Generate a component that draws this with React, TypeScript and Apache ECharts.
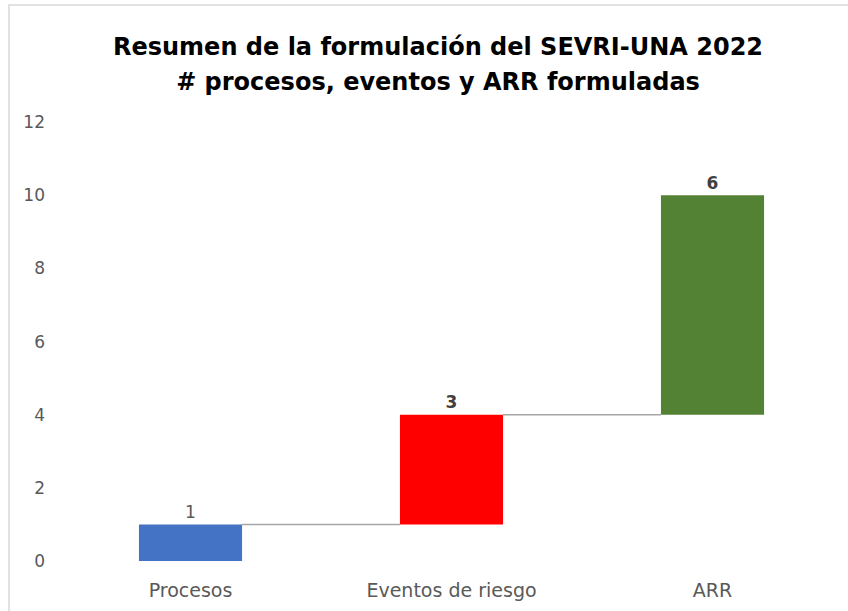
import React, { useEffect, useRef } from "react";
import * as echarts from "echarts";

const categories = ["Procesos", "Eventos de riesgo", "ARR"];
const values = [1, 3, 6];
const barColors = ["#4472C4", "#FF0000", "#548235"];
const yTicks = [0, 2, 4, 6, 8, 10, 12];

export default function App() {
  const ref = useRef<HTMLDivElement>(null);
  useEffect(() => {
    const chart = echarts.init(ref.current!, null, { renderer: "svg" });
    const bases: number[] = [];
    const ends: number[] = [];
    let acc = 0;
    values.forEach((v) => {
      bases.push(acc);
      acc += v;
      ends.push(acc);
    });
    const font = "'DejaVu Sans', sans-serif";
    chart.setOption({
      animation: false,
      title: {
        text: "Resumen de la formulación del SEVRI-UNA 2022\n# procesos, eventos y ARR formuladas",
        left: 433,
        textAlign: "center",
        top: 24,
        textStyle: {
          fontFamily: font,
          fontWeight: "bold",
          fontSize: 24,
          lineHeight: 35,
          color: "#000000",
        },
      },
      graphic: [
        {
          type: "rect",
          shape: { x: 9, y: 5, width: 1000, height: 1000 },
          style: { fill: "none", stroke: "#d9d9d9", lineWidth: 1.5 },
          silent: true,
        },
      ],
      grid: { left: 60, right: 5, top: 122, bottom: 50 },
      xAxis: {
        type: "category",
        data: categories,
        axisLine: { show: false },
        axisTick: { show: false },
        axisLabel: { fontFamily: font, fontSize: 19, color: "#595959", margin: 19 },
      },
      yAxis: {
        type: "value",
        min: yTicks[0],
        max: yTicks[yTicks.length - 1],
        interval: 2,
        axisLine: { show: false },
        axisTick: { show: false },
        splitLine: { show: false },
        axisLabel: { fontFamily: font, fontSize: 17, color: "#595959", margin: 15 },
      },
      series: [
        {
          type: "bar",
          stack: "w",
          data: bases,
          itemStyle: { color: "transparent" },
          barWidth: "39.5%",
          silent: true,
        },
        {
          type: "bar",
          stack: "w",
          barWidth: "39.5%",
          data: values.map((v, i) => ({
            value: v,
            itemStyle: { color: barColors[i] },
            label: {
              show: true,
              position: "top",
              distance: 4,
              fontFamily: font,
              fontSize: 17,
              fontWeight: i === 0 ? "normal" : "bold",
              color: i === 0 ? "#595959" : "#404040",
            },
          })),
        },
        {
          type: "custom",
          silent: true,
          z: 1,
          data: ends.slice(0, -1).map((e, i) => [i, e]),
          renderItem: (params: any, api: any) => {
            const i = api.value(0);
            const y = api.value(1);
            const p1 = api.coord([i, y]);
            const p2 = api.coord([i + 1, y]);
            const bw = api.size([1, 0])[0] * 0.395;
            return {
              type: "line",
              shape: { x1: p1[0] + bw / 2, y1: p1[1], x2: p2[0] - bw / 2, y2: p2[1] },
              style: { stroke: "#a6a6a6", lineWidth: 1.5 },
            };
          },
        },
      ],
    });
    return () => chart.dispose();
  }, []);
  return (
    <div
      ref={ref}
      style={{ position: "fixed", left: 0, top: 0, width: 848, height: 611, background: "#fff" }}
    />
  );
}
